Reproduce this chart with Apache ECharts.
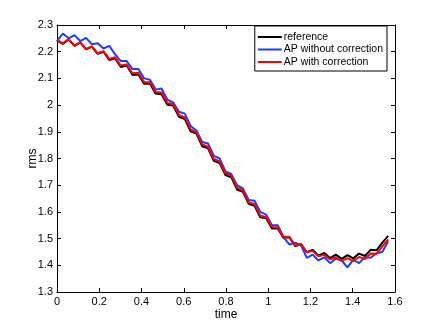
<!DOCTYPE html>
<html>
<head>
<meta charset="utf-8">
<script src="https://cdn.jsdelivr.net/npm/echarts@6/dist/echarts.min.js"></script>
<style>
  html, body { margin: 0; padding: 0; background: #fff; }
  #chart { width: 436px; height: 328px; }
</style>
</head>
<body>
<div id="chart"></div>
<script>
// sample times (roughly 0 .. pi/2)
var times = [0, 0.0275, 0.055, 0.0825, 0.11, 0.1375, 0.165, 0.1925, 0.22, 0.2475,
  0.275, 0.3025, 0.33, 0.3575, 0.385, 0.4125, 0.44, 0.4675, 0.495, 0.5225,
  0.55, 0.5775, 0.605, 0.6325, 0.66, 0.6875, 0.715, 0.7425, 0.77, 0.7975,
  0.825, 0.8525, 0.88, 0.9075, 0.935, 0.9625, 0.99, 1.0175, 1.045, 1.0725,
  1.1, 1.1275, 1.155, 1.1825, 1.21, 1.2375, 1.265, 1.2925, 1.32, 1.3475,
  1.375, 1.4025, 1.43, 1.4575, 1.485, 1.5125, 1.54, 1.5675];

var reference = [2.242, 2.229, 2.246, 2.222, 2.235, 2.209, 2.219, 2.192, 2.2, 2.169,
  2.175, 2.143, 2.148, 2.113, 2.115, 2.08, 2.08, 2.043, 2.041, 2.001,
  1.998, 1.956, 1.948, 1.902, 1.893, 1.846, 1.838, 1.791, 1.783, 1.738,
  1.73, 1.684, 1.675, 1.63, 1.623, 1.58, 1.576, 1.538, 1.538, 1.502,
  1.505, 1.472, 1.479, 1.449, 1.458, 1.436, 1.446, 1.427, 1.44, 1.424,
  1.438, 1.426, 1.444, 1.435, 1.458, 1.456, 1.485, 1.51];

var apNoCorr = [2.24, 2.268, 2.25, 2.262, 2.24, 2.252, 2.228, 2.232, 2.212, 2.222,
  2.19, 2.165, 2.165, 2.135, 2.135, 2.1, 2.095, 2.058, 2.062, 2.02,
  2.01, 1.975, 1.968, 1.922, 1.905, 1.862, 1.856, 1.81, 1.8, 1.752,
  1.742, 1.7, 1.688, 1.645, 1.642, 1.6, 1.59, 1.55, 1.55, 1.505,
  1.478, 1.485, 1.475, 1.428, 1.44, 1.418, 1.43, 1.408, 1.425, 1.418,
  1.392, 1.42, 1.408, 1.43, 1.428, 1.445, 1.45, 1.49];

var apCorr = [2.244, 2.231, 2.247, 2.223, 2.235, 2.21, 2.22, 2.194, 2.202, 2.173,
  2.179, 2.148, 2.152, 2.119, 2.121, 2.086, 2.086, 2.049, 2.047, 2.008,
  2.004, 1.963, 1.954, 1.909, 1.899, 1.853, 1.844, 1.798, 1.789, 1.745,
  1.736, 1.691, 1.681, 1.636, 1.629, 1.586, 1.581, 1.543, 1.542, 1.506,
  1.507, 1.474, 1.479, 1.449, 1.454, 1.434, 1.439, 1.422, 1.43, 1.416,
  1.427, 1.416, 1.431, 1.424, 1.444, 1.443, 1.471, 1.497];

var legendNames = ['reference', 'AP without correction', 'AP with correction'];

function pairs(ys) {
  return times.map(function (t, i) { return [t, ys[i]]; });
}

var font = 'Liberation Sans, Arial, Helvetica, sans-serif';
var chart = echarts.init(document.getElementById('chart'));

var boxAxis = {
  axisLine: {show: true, onZero: false, lineStyle: {color: '#000', width: 1}},
  axisTick: {show: true, inside: true, length: 4, lineStyle: {color: '#000'}},
  splitLine: {show: false}
};

var option = {
  animation: false,
  backgroundColor: '#fff',
  grid: {left: 57, right: 41, top: 25, bottom: 36},
  legend: {
    right: 49, top: 26,
    orient: 'vertical',
    backgroundColor: '#fff',
    borderColor: '#000', borderWidth: 1,
    padding: [5, 4, 3, 3],
    itemGap: 0.5,
    itemWidth: 24, itemHeight: 2,
    icon: 'rect',
    textStyle: {color: '#000', fontFamily: font, fontSize: 10.5, lineHeight: 12, padding: [0, 0, 0, -3]},
    data: legendNames
  },
  xAxis: [
    Object.assign({
      type: 'value', min: 0, max: 1.6, interval: 0.2,
      name: 'time', nameLocation: 'middle', nameGap: 17, nameMoveOverlap: false,
      nameTextStyle: {color: '#000', fontFamily: font, fontSize: 12},
      axisLabel: {color: '#000', fontFamily: font, fontSize: 11, margin: 4,
        formatter: function (v) { return String(Math.round(v * 10) / 10); }}
    }, boxAxis),
    Object.assign({
      type: 'value', min: 0, max: 1.6, interval: 0.2, position: 'top',
      axisLabel: {show: false}
    }, boxAxis)
  ],
  yAxis: [
    Object.assign({
      type: 'value', min: 1.3, max: 2.3, interval: 0.1,
      name: 'rms', nameLocation: 'middle', nameGap: 18, nameMoveOverlap: false,
      nameTextStyle: {color: '#000', fontFamily: font, fontSize: 12},
      axisLabel: {color: '#000', fontFamily: font, fontSize: 11, margin: 4,
        formatter: function (v) { return String(Math.round(v * 10) / 10); }}
    }, boxAxis),
    Object.assign({
      type: 'value', min: 1.3, max: 2.3, interval: 0.1, position: 'right',
      axisLabel: {show: false}
    }, boxAxis)
  ],
  series: [
    {name: 'reference', type: 'line', showSymbol: false, data: pairs(reference),
      itemStyle: {color: '#000'}, lineStyle: {color: '#000', width: 2}},
    {name: 'AP without correction', type: 'line', showSymbol: false, data: pairs(apNoCorr),
      itemStyle: {color: '#1f3cff'}, lineStyle: {color: '#1f3cff', width: 2}},
    {name: 'AP with correction', type: 'line', showSymbol: false, data: pairs(apCorr),
      itemStyle: {color: '#ff0000'}, lineStyle: {color: '#ff0000', width: 2}}
  ]
};

chart.setOption(option);
</script>
</body>
</html>
